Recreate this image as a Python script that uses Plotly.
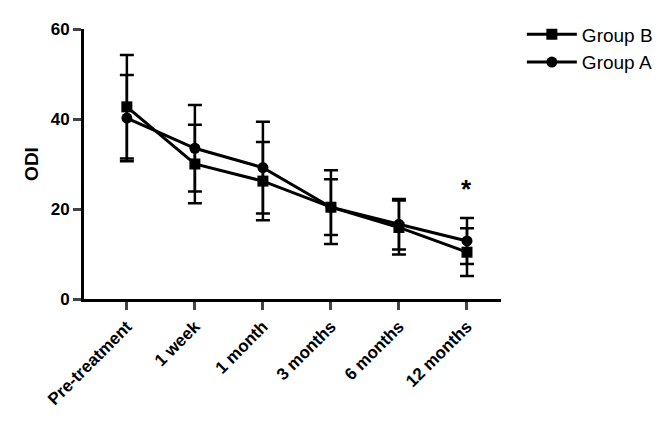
import plotly.graph_objects as go

cats = ["Pre-treatment", "1 week", "1 month", "3 months", "6 months", "12 months"]
b_mean = [42.7, 30.0, 26.2, 20.4, 15.9, 10.4]
b_err = [11.5, 8.7, 8.7, 6.2, 6.0, 5.3]
a_mean = [40.2, 33.5, 29.2, 20.4, 16.6, 12.9]
a_err = [9.6, 9.6, 10.2, 8.2, 5.6, 5.1]

x = list(range(len(cats)))
fig = go.Figure()
fig.add_trace(go.Scatter(x=x, y=b_mean, name="Group B", mode="lines+markers",
    line=dict(color="black", width=3), marker=dict(symbol="square", size=11, color="black"),
    error_y=dict(type="data", array=b_err, color="black", thickness=2.5, width=7)))
fig.add_trace(go.Scatter(x=x, y=a_mean, name="Group A", mode="lines+markers",
    line=dict(color="black", width=3), marker=dict(symbol="circle", size=11, color="black"),
    error_y=dict(type="data", array=a_err, color="black", thickness=2.5, width=7)))
fig.add_annotation(x=5, y=24.5, text="<b>*</b>", showarrow=False, font=dict(size=26, color="black"))
fig.update_layout(
    width=669, height=433, plot_bgcolor="white", paper_bgcolor="white",
    margin=dict(l=76, r=176, t=8, b=142),
    font=dict(family="Liberation Sans, Arial", size=17, color="black"),
    legend=dict(x=1.05, y=1.05, xanchor="left", yanchor="top", font=dict(size=19),
                itemwidth=50, tracegroupgap=4),
    xaxis=dict(range=[-0.63, 5.5], tickvals=x, ticktext=["<b>%s</b>" % c for c in cats],
               tickangle=-45, showline=True, linecolor="black", linewidth=3,
               ticks="outside", ticklen=8, tickwidth=3, showgrid=False, zeroline=False),
    yaxis=dict(range=[0, 60], tickvals=[0, 20, 40, 60], ticktext=["<b>0</b>", "<b>20</b>", "<b>40</b>", "<b>60</b>"],
               title=dict(text="<b>ODI</b>", font=dict(size=19), standoff=8),
               showline=True, linecolor="black", linewidth=3, ticks="outside", ticklen=8, tickwidth=3,
               showgrid=False, zeroline=False),
)
fig.write_html("out.html")
